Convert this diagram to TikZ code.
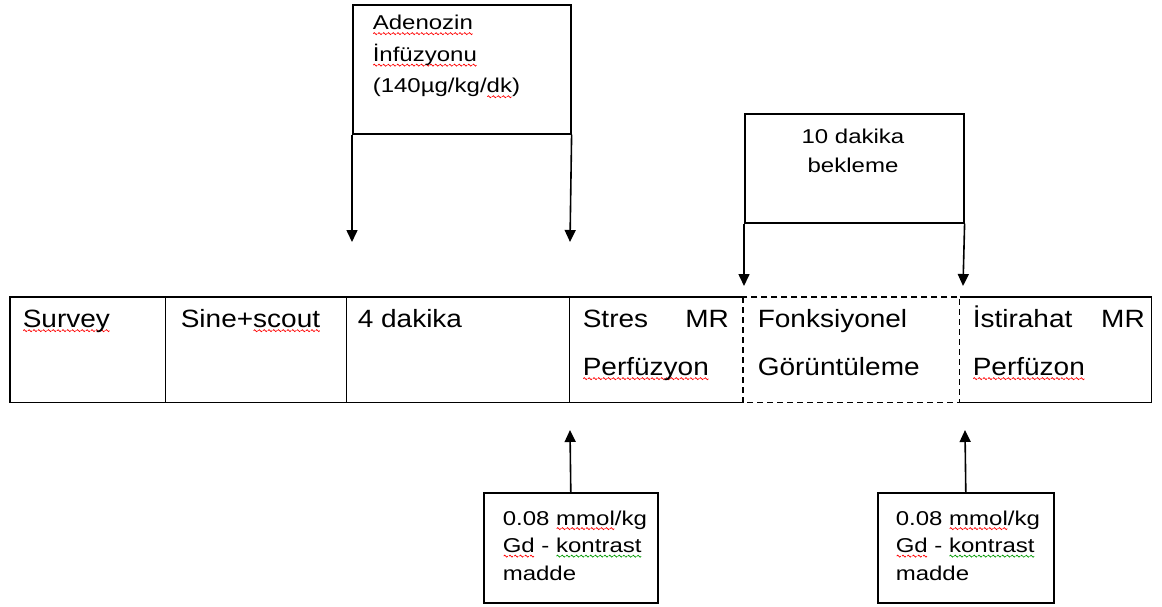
\documentclass[tikz,border=0pt]{standalone}
\usepackage{fontspec}
\setmainfont{Liberation Sans}
\newfontfamily\rowfont[FakeStretch=1.12]{Liberation Sans}
\newfontfamily\boxfont[FakeStretch=1.2]{Liberation Sans}
\usetikzlibrary{arrows.meta}
\newsavebox\rwavebox
\newsavebox\gwavebox
\newcommand\wavepiece[1]{\pgfpicture\pgfsetlinewidth{0.7pt}\pgfsetstrokecolor{#1}%
  \pgfpathmoveto{\pgfpoint{0pt}{0pt}}%
  \pgfpathsine{\pgfpoint{1pt}{1pt}}\pgfpathcosine{\pgfpoint{1pt}{-1pt}}%
  \pgfpathsine{\pgfpoint{1pt}{-1pt}}\pgfpathcosine{\pgfpoint{1pt}{1pt}}%
  \pgfusepath{stroke}\endpgfpicture}
\newcommand\sqline[2]{\leavevmode\setbox0\hbox{#2}\rlap{\raisebox{-5pt}{\hbox to \wd0{\xleaders\copy#1\hfill}}}#2}
\newcommand\redsq[1]{\sqline{\rwavebox}{#1}}
\newcommand\grnsq[1]{\sqline{\gwavebox}{#1}}
\begin{document}%
\sbox\rwavebox{\wavepiece{red}}%
\sbox\gwavebox{\wavepiece{green!60!black}}%
\begin{tikzpicture}[x=1pt,y=-1pt,line width=1.6pt,
  arr/.style={-{Triangle[width=11pt,length=12pt]}},
  rowtxt/.style={font=\rowfont\fontsize{25}{48}\selectfont,inner sep=0pt,align=left},
  boxtxt/.style={font=\boxfont\fontsize{20}{31}\selectfont,inner sep=0pt,align=left},
  cell/.style={minimum height=104pt,inner sep=0pt,anchor=north west},
  frame/.style={draw,inner sep=0pt,anchor=north west},
  dashedline/.style={dash pattern=on 6pt off 4pt}]
\useasboundingbox (0,0) rectangle (1162,607);

% top box: Adenozin
\node[frame,minimum width=218pt,minimum height=129pt] (adeno) at (352,4) {};
\node[boxtxt,font=\boxfont\fontsize{20}{31.5}\selectfont,anchor=base west] (adenotxt) at (372,93) {\redsq{Adenozin}\\\redsq{İnfüzyonu}\\(140µg/kg/\redsq{dk})};
\coordinate (a1) at (352,242);
\coordinate (a2) at (570,242);
\draw[arr] (adeno.south west) -- (a1);
\draw[arr] (adeno.south east) -- (a2);

% box: 10 dakika bekleme
\node[frame,minimum width=219pt,minimum height=109pt] (bekle) at (744,113) {};
\node[boxtxt,font=\boxfont\fontsize{20}{29}\selectfont,align=center,anchor=base] (bekletxt) at (853,172) {10 dakika\\bekleme};
\coordinate (b1) at (744,286);
\coordinate (b2) at (963,286);
\draw[arr] (bekle.south west) -- (b1);
\draw[arr] (bekle.south east) -- (b2);

% main row
\node[cell,minimum width=154pt] (survey) at (10,297) {};
\node[cell,minimum width=181pt] (sine) at (164,297) {};
\node[cell,minimum width=223pt] (dak) at (345,297) {};
\node[cell,minimum width=175pt] (stres) at (568,297) {};
\node[cell,minimum width=215pt] (fonk) at (743,297) {};
\node[cell,minimum width=192pt] (istir) at (958,297) {};

\draw (fonk.north west) -- (survey.north west) -- (survey.south west) -- (fonk.south west);
\draw (fonk.north east) -- (istir.north east) -- (istir.south east) -- (fonk.south east);
\draw (survey.north east) -- (survey.south east);
\draw (sine.north east) -- (sine.south east);
\draw (dak.north east) -- (dak.south east);
\draw[dashedline] (fonk.north west) rectangle (fonk.south east);

\node[rowtxt,anchor=base west] (t1) at (22,327) {\redsq{Survey}};
\node[rowtxt,anchor=base west] (t2) at (180,327) {Sine+\redsq{scout}};
\node[rowtxt,anchor=base west] (t3) at (357,327) {4 dakika};
\node[rowtxt,anchor=base west,text width=146pt] (t4) at (582,327) {Stres\hfill MR\\\redsq{Perfüzyon}};
\node[rowtxt,anchor=base west] (t5) at (757,375) {Fonksiyonel\\Görüntüleme};
\node[rowtxt,anchor=base west,text width=172pt] (t6) at (972,327) {İstirahat\hfill MR\\\redsq{Perfüzon}};

% bottom boxes
\node[frame,minimum width=174pt,minimum height=110pt] (gd1) at (483,492) {};
\node[boxtxt,font=\boxfont\fontsize{20}{27.5}\selectfont,anchor=base west] (gd1txt) at (502,580) {0.08 \redsq{mmol}/kg\\\redsq{Gd} - \grnsq{kontrast}\\madde};
\coordinate (c1) at (570,430);
\draw[arr] (gd1.north) -- (c1);

\node[frame,minimum width=176pt,minimum height=110pt] (gd2) at (877,492) {};
\node[boxtxt,font=\boxfont\fontsize{20}{27.5}\selectfont,anchor=base west] (gd2txt) at (895,580) {0.08 \redsq{mmol}/kg\\\redsq{Gd} - \grnsq{kontrast}\\madde};
\coordinate (c2) at (965,430);
\draw[arr] (gd2.north) -- (c2);
\end{tikzpicture}
\end{document}
